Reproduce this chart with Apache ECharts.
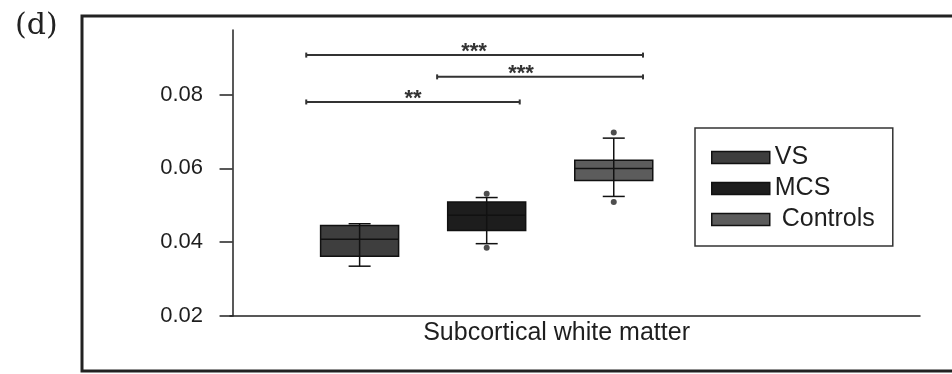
<!DOCTYPE html>
<html>
<head>
<meta charset="utf-8">
<script src="https://cdn.jsdelivr.net/npm/echarts@6/dist/echarts.min.js"></script>
<style>
  html, body { margin: 0; padding: 0; background: #fff; }
  #chart { width: 952px; height: 374px; }
</style>
</head>
<body>
<div id="chart"></div>
<script>
// groups and box statistics
const groups = ['VS', 'MCS', 'Controls'];
const groupX = [1, 2, 3];
const boxMin = [0.0335, 0.0396, 0.0524];
const boxQ1 = [0.0362, 0.0432, 0.0567];
const boxMedian = [0.0408, 0.0473, 0.0600];
const boxQ3 = [0.0445, 0.0509, 0.0622];
const boxMax = [0.0450, 0.0521, 0.0682];
const outlierLow = [null, 0.0385, 0.0509];
const outlierHigh = [null, 0.0531, 0.0697];

// significance brackets
const sigFrom = [0.58, 1.61, 0.58];
const sigTo = [3.23, 3.23, 2.26];
const sigY = [0.0907, 0.0848, 0.0780];
const sigText = ['***', '***', '**'];
const sigTextX = [1.90, 2.27, 1.42];

const yTicks = [0.02, 0.04, 0.06, 0.08];
const xLabel = 'Subcortical white matter';
const xLabelPos = 2.55;

const colors = ['#3e3e3e', '#1d1d1d', '#5c5c5c'];
const BOX_W = 78;
const CAP_W = 22;
const FONT = '"Liberation Sans", Arial, sans-serif';
const TEXT = '#1e1e1e';

const chart = echarts.init(document.getElementById('chart'));

function renderBox(params, api) {
  const x = api.value(0);
  const pMin = api.coord([x, api.value(1)]);
  const pQ1 = api.coord([x, api.value(2)]);
  const pMed = api.coord([x, api.value(3)]);
  const pQ3 = api.coord([x, api.value(4)]);
  const pMax = api.coord([x, api.value(5)]);
  const cx = pMed[0];
  const half = BOX_W / 2;
  const cap = CAP_W / 2;
  const ln = { stroke: '#111', lineWidth: 1.5 };
  return {
    type: 'group',
    children: [
      { type: 'rect', shape: { x: cx - half, y: pQ3[1], width: BOX_W, height: pQ1[1] - pQ3[1] },
        style: { fill: api.visual('color'), stroke: '#111', lineWidth: 1.5 } },
      { type: 'line', shape: { x1: cx, y1: pMax[1], x2: cx, y2: pMin[1] }, style: ln },
      { type: 'line', shape: { x1: cx - half, y1: pMed[1], x2: cx + half, y2: pMed[1] }, style: ln },
      { type: 'line', shape: { x1: cx - cap, y1: pMax[1], x2: cx + cap, y2: pMax[1] }, style: ln },
      { type: 'line', shape: { x1: cx - cap, y1: pMin[1], x2: cx + cap, y2: pMin[1] }, style: ln }
    ]
  };
}

function renderSig(params, api) {
  const a = api.coord([api.value(0), api.value(2)]);
  const b = api.coord([api.value(1), api.value(2)]);
  const t = api.coord([api.value(3), api.value(2)]);
  const st = { stroke: '#333', lineWidth: 2 };
  return {
    type: 'group',
    children: [
      { type: 'line', shape: { x1: a[0], y1: a[1], x2: b[0], y2: b[1] }, style: st },
      { type: 'line', shape: { x1: a[0], y1: a[1] - 2.5, x2: a[0], y2: a[1] + 2.5 }, style: st },
      { type: 'line', shape: { x1: b[0], y1: b[1] - 2.5, x2: b[0], y2: b[1] + 2.5 }, style: st },
      { type: 'text', x: t[0], y: t[1] - 3,
        style: { text: sigText[params.dataIndex], fill: '#333', fontSize: 22, fontWeight: 'bold',
                 fontFamily: FONT, align: 'center', verticalAlign: 'middle' } }
    ]
  };
}

const boxSeries = groups.map((g, i) => ({
  name: g,
  type: 'custom',
  renderItem: renderBox,
  itemStyle: { color: colors[i] },
  encode: { x: 0, y: [1, 2, 3, 4, 5] },
  data: [[groupX[i], boxMin[i], boxQ1[i], boxMedian[i], boxQ3[i], boxMax[i]]],
  z: 3
}));

const outliers = [];
groupX.forEach((x, i) => {
  if (outlierLow[i] != null) outliers.push([x, outlierLow[i]]);
  if (outlierHigh[i] != null) outliers.push([x, outlierHigh[i]]);
});

const option = {
  animation: false,
  backgroundColor: '#fff',
  grid: { left: 230, right: 32, top: 30, bottom: 58 },
  xAxis: {
    type: 'value',
    min: -0.02,
    max: 5.41,
    axisLine: { show: true, onZero: false, lineStyle: { color: '#222', width: 1.5 } },
    axisTick: { show: false },
    splitLine: { show: false },
    axisLabel: {
      customValues: [xLabelPos],
      formatter: () => xLabel,
      fontSize: 25,
      fontFamily: FONT,
      color: TEXT,
      margin: 5
    }
  },
  yAxis: {
    type: 'value',
    min: 0.02,
    max: 0.0975,
    axisLine: { show: true, lineStyle: { color: '#222', width: 1.5 } },
    axisTick: { show: true, length: 13, customValues: yTicks, lineStyle: { color: '#222', width: 1.5 } },
    axisLabel: {
      customValues: yTicks,
      formatter: v => v.toFixed(2),
      fontSize: 22,
      fontFamily: FONT,
      color: TEXT,
      margin: 27
    },
    splitLine: { show: false }
  },
  legend: {
    orient: 'vertical',
    left: 695,
    top: 128,
    padding: [17, 18, 14, 16],
    itemWidth: 58,
    itemHeight: 12,
    itemGap: 6,
    borderColor: '#333',
    borderWidth: 1.5,
    icon: 'rect',
    selectedMode: false,
    textStyle: { fontSize: 25, color: TEXT, fontFamily: FONT },
    formatter: n => (n === 'Controls' ? ' ' + n : n),
    data: groups.map((g, i) => ({
      name: g,
      itemStyle: { color: colors[i], borderColor: '#111', borderWidth: 1.5 }
    }))
  },
  graphic: [
    { type: 'rect', silent: true, z: -10,
      shape: { x: 82, y: 16, width: 900, height: 355 },
      style: { fill: 'none', stroke: '#222', lineWidth: 3 } },
    { type: 'text', silent: true, x: 15, y: 26,
      style: { text: '(d)', fill: '#222', fontSize: 30, fontFamily: '"DejaVu Serif", serif', verticalAlign: 'middle' } }
  ],
  series: boxSeries.concat([
    {
      name: 'outliers',
      type: 'scatter',
      symbol: 'circle',
      symbolSize: 6,
      itemStyle: { color: '#222' },
      data: outliers,
      z: 4
    },
    {
      name: 'significance',
      type: 'custom',
      renderItem: renderSig,
      encode: { x: [0, 1, 3], y: 2 },
      data: sigFrom.map((f, i) => [f, sigTo[i], sigY[i], sigTextX[i]])
    }
  ])
};

chart.setOption(option);
</script>
</body>
</html>
